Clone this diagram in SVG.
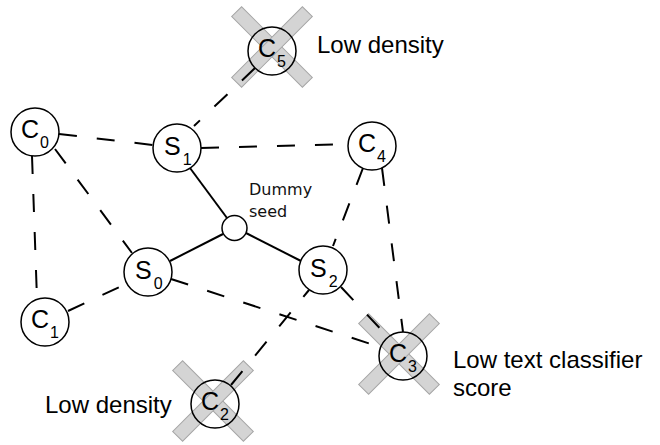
<svg xmlns="http://www.w3.org/2000/svg" width="660" height="445" viewBox="0 0 660 445">
  <style>
    .node { fill: #fff; stroke: #000; stroke-width: 1.5; }
    .ring { fill: none; stroke: #000; stroke-width: 1.5; }
    .bar { fill: #d4d4d4; stroke: #a6a6a6; stroke-width: 1; }
    .solid { stroke: #000; stroke-width: 2; fill: none; }
    .dash { stroke: #000; stroke-width: 2; fill: none; stroke-dasharray: 18 20; }
    .lbl { font-family: "Liberation Sans", Arial, sans-serif; font-size: 25px; fill: #000; }
    .sub { font-size: 16px; }
    .note { font-family: "Liberation Sans", Arial, sans-serif; font-size: 24px; fill: #000; }
    .seed { font-family: "DejaVu Sans", sans-serif; font-size: 16px; fill: #111; }
  </style>
  <defs>
    <!-- rejection cross: two crossed bars centred on the origin -->
    <g id="cross">
      <rect class="bar" x="-50" y="-7" width="100" height="14" transform="rotate(45)"/>
      <rect class="bar" x="-50" y="-7" width="100" height="14" transform="rotate(-45)"/>
    </g>
  </defs>

  <!-- crosses sit underneath the edges -->
  <g id="crosses">
    <use href="#cross" transform="translate(272,47)"/>
    <use href="#cross" transform="translate(213,401)"/>
    <use href="#cross" transform="translate(399,354)"/>
  </g>

  <g id="connectors">
    <!-- dummy seed links -->
    <line class="solid" x1="190" y1="168" x2="227" y2="218"/>
    <line class="solid" x1="170" y1="261" x2="223" y2="234"/>
    <line class="solid" x1="301" y1="261" x2="246" y2="233"/>
    <!-- candidate links -->
    <line class="dash" x1="255" y1="68" x2="194" y2="126"/>
    <line class="dash" x1="59" y1="134" x2="153" y2="145"/>
    <line class="dash" x1="201" y1="148" x2="348" y2="144"/>
    <line class="dash" x1="32" y1="156" x2="37" y2="299"/>
    <line class="dash" x1="55" y1="149" x2="132" y2="253"/>
    <line class="dash" x1="68" y1="311" x2="126" y2="284"/>
    <line class="dash" x1="171" y1="279" x2="380" y2="347"/>
    <line class="dash" x1="341" y1="287" x2="388" y2="337"/>
    <line class="dash" x1="363" y1="168" x2="333" y2="246"/>
    <line class="dash" x1="382" y1="168" x2="403" y2="332"/>
    <line class="dash" x1="231" y1="385" x2="309" y2="290"/>
  </g>

  <g id="C0">
    <circle class="node" cx="35" cy="132" r="24"/>
    <text class="lbl" x="21" y="138">C<tspan class="sub" dx="1" dy="10">0</tspan></text>
  </g>
  <g id="S1">
    <circle class="node" cx="177" cy="148" r="24"/>
    <text class="lbl" x="164" y="155">S<tspan class="sub" dx="2" dy="10">1</tspan></text>
  </g>
  <g id="C4">
    <circle class="node" cx="372" cy="146" r="24"/>
    <text class="lbl" x="358" y="152">C<tspan class="sub" dx="1" dy="10">4</tspan></text>
  </g>
  <g id="dummy">
    <circle class="node" cx="234.5" cy="228" r="12.5"/>
    <text class="seed" x="249" y="195">Dummy</text>
    <text class="seed" x="249" y="217">seed</text>
  </g>
  <g id="S0">
    <circle class="node" cx="148" cy="272" r="24"/>
    <text class="lbl" x="135" y="279">S<tspan class="sub" dx="2" dy="10">0</tspan></text>
  </g>
  <g id="S2">
    <circle class="node" cx="323" cy="270" r="24"/>
    <text class="lbl" x="310" y="277">S<tspan class="sub" dx="2" dy="10">2</tspan></text>
  </g>
  <g id="C1">
    <circle class="node" cx="45" cy="322" r="24"/>
    <text class="lbl" x="31" y="328">C<tspan class="sub" dx="1" dy="10">1</tspan></text>
  </g>
  <g id="C5">
    <circle class="ring" cx="272" cy="51" r="24"/>
    <text class="lbl" x="258" y="57">C<tspan class="sub" dx="1" dy="10">5</tspan></text>
    <text class="note" x="317" y="53">Low density</text>
  </g>
  <g id="C2">
    <circle class="ring" cx="215" cy="404" r="24"/>
    <text class="lbl" x="201" y="410">C<tspan class="sub" dx="1" dy="10">2</tspan></text>
    <text class="note" x="45" y="413">Low density</text>
  </g>
  <g id="C3">
    <circle class="ring" cx="403" cy="356" r="24"/>
    <text class="lbl" x="389" y="362">C<tspan class="sub" dx="1" dy="10">3</tspan></text>
    <text class="note" x="453" y="368">Low text classifier</text>
    <text class="note" x="453" y="396">score</text>
  </g>
</svg>
